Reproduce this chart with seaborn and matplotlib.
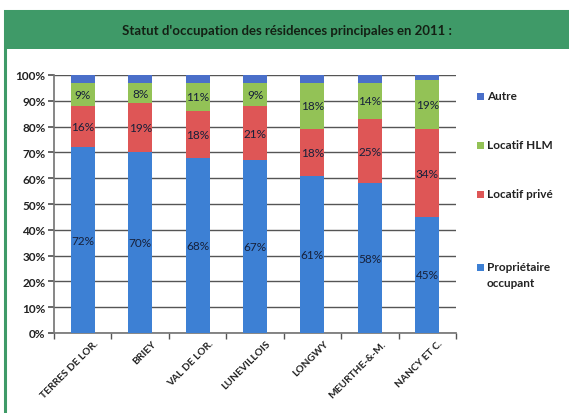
import matplotlib
matplotlib.use("Agg")
import matplotlib.pyplot as plt
import matplotlib.transforms as mtransforms
from matplotlib.patches import Rectangle
import numpy as np
import pandas as pd
import seaborn as sns

categories = ["TERRES DE LOR.", "BRIEY", "VAL DE LOR.", "LUNEVILLOIS", "LONGWY", "MEURTHE-&-M.", "NANCY ET C."]
proprietaire = [72, 70, 68, 67, 61, 58, 45]
locatif_prive = [16, 19, 18, 21, 18, 25, 34]
locatif_hlm = [9, 8, 11, 9, 18, 14, 19]
autre = [3, 3, 3, 3, 3, 3, 2]
series_names = ["Propriétaire\noccupant", "Locatif privé", "Locatif HLM", "Autre"]
yticks = [0, 10, 20, 30, 40, 50, 60, 70, 80, 90, 100]
title = "Statut d'occupation des résidences principales en 2011 :"

colors = ["#3d80d4", "#de5656", "#93c256", "#4a6fc9"]
green = "#3f9a68"

sns.set_theme(style="white")
plt.rcParams["font.family"] = ["Lato", "DejaVu Sans"]

fig = plt.figure(figsize=(5.69, 4.14), dpi=100)
W, H = 569, 414

# frame and title band
fig.patches.append(Rectangle((5 / W, -0.1), 1.2, (414 - 12) / H + 0.1, transform=fig.transFigure,
                             facecolor="white", edgecolor=green, linewidth=2.2, zorder=-5))
fig.patches.append(Rectangle((5 / W, (414 - 50) / H), 1.2, 38 / H, transform=fig.transFigure,
                             facecolor=green, edgecolor="none", zorder=-4))
fig.text(287 / W, (414 - 31) / H, title, ha="center", va="center", fontsize=9.5,
         fontweight="bold", color="#142014")

ax = fig.add_axes([54 / W, (414 - 334) / H, (456 - 54) / W, (334 - 76) / H])
ax.set_facecolor("none")

series = [proprietaire, locatif_prive, locatif_hlm, autre]
cum = np.cumsum(np.array(series, dtype=float), axis=0)

# draw from top layer to bottom layer (overlapping cumulative bars)
for i in range(3, -1, -1):
    df = pd.DataFrame({"cat": categories, "val": cum[i]})
    sns.barplot(data=df, x="cat", y="val", color=colors[i], width=0.42, ax=ax,
                saturation=1, edgecolor="none", zorder=3)

# labels
for i in range(3):
    bottoms = cum[i] - np.array(series[i])
    for j, v in enumerate(series[i]):
        ax.text(j, bottoms[j] + v / 2, f"{v}%", ha="center", va="center", fontsize=8.5,
                color="#16203a", zorder=5)

ax.set_ylim(0, 100)
ax.set_xlim(-0.5, len(categories) - 0.5)
ax.set_yticks(yticks)
ax.set_yticklabels([f"{t}%" for t in yticks], fontsize=8.5, fontweight="bold", color="#222222")
ax.grid(axis="y", color="#555555", linewidth=1.0, zorder=0)
ax.set_axisbelow(True)
ax.set_xlabel("")
ax.set_ylabel("")
ax.set_xticks(range(len(categories)))
ax.set_xticklabels(categories, rotation=45, ha="right", rotation_mode="anchor",
                   fontsize=7.3, fontweight="bold", color="#222222")
ax.tick_params(axis="x", length=0, pad=4)
ax.tick_params(axis="y", length=4, left=True, color="#555555", pad=2)
# minor ticks between categories
ax.set_xticks(np.arange(-0.5, len(categories), 1), minor=True)
ax.tick_params(axis="x", which="minor", length=4, bottom=True, color="#555555")
shift = mtransforms.ScaledTranslation(11 / 100, 0, fig.dpi_scale_trans)
for lbl in ax.get_xticklabels():
    lbl.set_transform(lbl.get_transform() + shift)
for s in ["top", "right"]:
    ax.spines[s].set_visible(False)
ax.spines["left"].set_color("#777777")
ax.spines["bottom"].set_color("#777777")

# legend (Excel-style placement)
leg_y = [268, 195, 146, 97]  # first-line centers for series 0..3
for i in [3, 2, 1, 0]:
    y = leg_y[i]
    fig.patches.append(Rectangle((477 / W, (414 - y - 3.5) / H), 7 / W, 7 / H,
                                 transform=fig.transFigure, facecolor=colors[i],
                                 edgecolor="none", zorder=2))
    fig.text(487 / W, (414 - y + 6) / H, series_names[i], ha="left", va="top",
             fontsize=8.5, fontweight="bold", color="#222222", linespacing=1.6)

fig.savefig("out.png", dpi=100)
